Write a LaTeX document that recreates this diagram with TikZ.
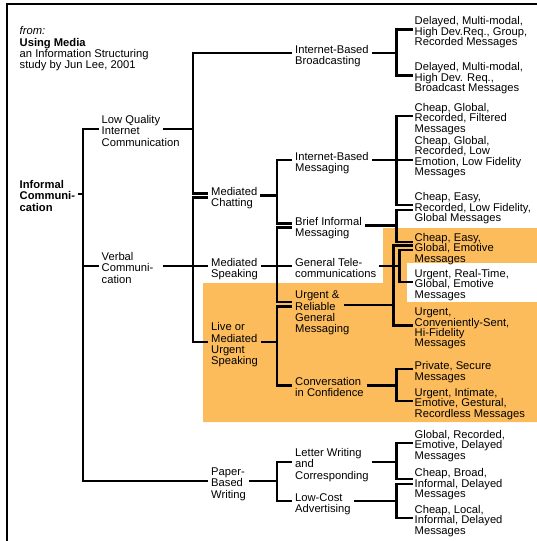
\documentclass[tikz,border=0pt]{standalone}
\usepackage{fontspec}
\setmainfont{Liberation Sans}
\definecolor{hl}{RGB}{252,188,92}
\newcommand\fsI{\fontsize{11.2}{11.3}\selectfont\lineskiplimit=-20pt\relax}
\newcommand\fsL{\fontsize{11.2}{10.4}\selectfont\lineskiplimit=-20pt\relax}
\newcommand\tst{\rule{0pt}{14pt}}
\newcommand\tsb{\rule[-2.4pt]{0pt}{0pt}}
\tikzset{
  conn/.style={line width=2.7pt, line join=miter, line cap=butt},
  lbl/.style={anchor=west, align=left, inner xsep=3pt, inner ysep=0pt, font=\fsI},
  leaf/.style={anchor=west, align=left, inner xsep=1.5pt, inner ysep=0pt, font=\fsL},
}
\begin{document}
\begin{tikzpicture}[x=1pt,y=1pt]
\useasboundingbox (0,0) rectangle (537,-541);
% highlighted region
\fill[hl] (203,-283) -- (383,-283) -- (383,-228) -- (537,-228) -- (537,-422) -- (203,-422) -- cycle;
\fill[white] (407,-263) rectangle (537,-302);
% frame
\draw[line width=1.2pt] (7,-541) -- (7,-4) -- (537,-4);
% header
\node[lbl] (hdr) at (16.5,-46) {\tst\textit{from:}\\\textbf{Using Media}\\an Information Structuring\\study by Jun Lee, 2001\tsb};
% nodes
\node[lbl, font=\fsI\bfseries] (root) at (16.5,-194) {\tst Informal\\Communi-\\cation\tsb};
\node[lbl] (lq) at (98.5,-129) {\tst Low Quality\\Internet\\Communication\tsb};
\node[lbl] (vc) at (98.5,-266) {\tst Verbal\\Communi-\\cation\tsb};
\node[lbl] (pb) at (208,-481) {\tst Paper-\\Based\\Writing\tsb};
\node[lbl] (ibb) at (292,-53) {\tst Internet-Based\\Broadcasting\tsb};
\node[lbl] (mc) at (208,-195.5) {\tst Mediated\\Chatting\tsb};
\node[lbl] (ms) at (208,-266) {\tst Mediated\\Speaking\tsb};
\node[lbl] (lm) at (208,-342) {\tst Live or\\Mediated\\Urgent\\Speaking\tsb};
\node[lbl] (ibm) at (292,-160) {\tst Internet-Based\\Messaging\tsb};
\node[lbl] (bim) at (292,-225.5) {\tst Brief Informal\\Messaging\tsb};
\node[lbl] (gt) at (292,-266) {\tst General Tele-\\communications\tsb};
\node[lbl] (ur) at (292,-310) {\tst Urgent \&\\Reliable\\General\\Messaging\tsb};
\node[lbl] (cc) at (292,-385.5) {\tst Conversation\\in Confidence\tsb};
\node[lbl] (lw) at (292,-462) {\tst Letter Writing\\and\\Corresponding\tsb};
\node[lbl] (lc) at (292,-501) {\tst Low-Cost\\Advertising\tsb};
% leaves
\node[leaf] (a1) at (413,-29.5) {\tst Delayed, Multi-modal,\\High Dev.Req., Group,\\Recorded Messages\tsb};
\node[leaf] (a2) at (413,-75.5) {\tst Delayed, Multi-modal,\\High Dev. Req.,\\Broadcast Messages\tsb};
\node[leaf] (l1) at (413,-116) {\tst Cheap, Global,\\Recorded, Filtered\\Messages\tsb};
\node[leaf] (l2) at (413,-154) {\tst Cheap, Global,\\Recorded, Low\\Emotion, Low Fidelity\\Messages\tsb};
\node[leaf] (l3) at (413,-205.5) {\tst Cheap, Easy,\\Recorded, Low Fidelity,\\Global Messages\tsb};
\node[leaf] (d1) at (413,-246) {\tst Cheap, Easy,\\Global, Emotive\\Messages\tsb};
\node[leaf] (d2) at (413,-282) {\tst Urgent, Real-Time,\\Global, Emotive\\Messages\tsb};
\node[leaf] (d3) at (413,-325.5) {\tst Urgent,\\Conveniently-Sent,\\Hi-Fidelity\\Messages\tsb};
\node[leaf] (e1) at (413,-369) {\tst Private, Secure\\Messages\tsb};
\node[leaf] (e2) at (413,-401) {\tst Urgent, Intimate,\\Emotive, Gestural,\\Recordless Messages\tsb};
\node[leaf] (f1) at (413,-443) {\tst Global, Recorded,\\Emotive, Delayed\\Messages\tsb};
\node[leaf] (f2) at (413,-481.5) {\tst Cheap, Broad,\\Informal, Delayed\\Messages\tsb};
\node[leaf] (f3) at (413,-518) {\tst Cheap, Local,\\Informal, Delayed\\Messages\tsb};
% bar columns
\coordinate (k1) at (83,0);
\coordinate (k2) at (193,0);
\coordinate (k3) at (277,0);
\coordinate (k4) at (396.5,0);
\coordinate (k4l) at (393.3,0);
\coordinate (k4r) at (399.3,0);
% shifted entry / exit points
\coordinate (lq-o) at ([xshift=64pt]lq.west);
\coordinate (vc-o) at ([xshift=64pt]vc.west);
\coordinate (mc-a) at ([yshift=2pt]mc.west);
\coordinate (mc-b) at ([yshift=-2pt]mc.west);
\coordinate (bim-a) at ([yshift=2pt]bim.west);
\coordinate (bim-b) at ([yshift=-2pt]bim.west);
\coordinate (ur-a) at ([yshift=8pt]ur.west);
\coordinate (ur-b) at ([yshift=3.3pt]ur.west);
\coordinate (ur-o) at ([xshift=52pt,yshift=5pt]ur.west);
\coordinate (l3-a) at ([yshift=0.5pt]l3.west);
\coordinate (l3-b) at ([yshift=-4.5pt]l3.west);
\coordinate (d1-a) at ([yshift=4pt]d1.west);
\coordinate (d1-b) at ([yshift=0.5pt]d1.west);
\coordinate (d1-c) at ([yshift=-4pt]d1.west);
\coordinate (f2-a) at ([yshift=2.5pt]f2.west);
\coordinate (f2-b) at ([yshift=-2.5pt]f2.west);
% connectors
\draw[conn] (root.east) -- (root.east -| k1);
\draw[conn] (lq.west) -| (k1 |- pb.west) -- (pb.west);
\draw[conn] (k1 |- vc.west) -- (vc.west);
\draw[conn] (lq-o) -- (lq-o -| k2);
\draw[conn] (ibb.west) -| (k2 |- mc-a) -- (mc-a);
\draw[conn] (vc-o) -- (vc-o -| ms.west);
\draw[conn] (mc-b) -| (k2 |- lm.west) -- (lm.west);
\draw[conn] (ibb.east) -- (ibb.east -| k4);
\draw[conn] (a1.west) -| (k4 |- a2.west) -- (a2.west);
\draw[conn] (mc.east) -- (mc.east -| k3);
\draw[conn] (ibm.west) -| (k3 |- bim-a) -- (bim-a);
\draw[conn] (ms.east) -- (ms.east -| gt.west);
\draw[conn] (bim-b) -| (k3 |- ur-a) -- (ur-a);
\draw[conn] (lm.east) -- (lm.east -| k3);
\draw[conn] (ur-b) -| (k3 |- cc.west) -- (cc.west);
\draw[conn] (ibm.east) -- (ibm.east -| l2.west);
\draw[conn] (l1.west) -| (k4 |- l3-a) -- (l3-a);
\draw[conn] (bim.east) -- (bim.east -| k4);
\draw[conn] (l3-b) -| (k4 |- d1-a) -- (d1-a);
\draw[conn] (ur-o) -- (ur-o -| k4l);
\draw[conn] (d1-b) -| (k4l |- d3.west) -- (d3.west);
\draw[conn] (gt.east) -- (gt.east -| k4r);
\draw[conn] (d1-c) -| (k4r |- d2.west) -- (d2.west);
\draw[conn] (cc.east) -- (cc.east -| k4);
\draw[conn] (e1.west) -| (k4 |- e2.west) -- (e2.west);
\draw[conn] (pb.east) -- (pb.east -| k3);
\draw[conn] (lw.west) -| (k3 |- lc.west) -- (lc.west);
\draw[conn] (lw.east) -- (lw.east -| k4);
\draw[conn] (f1.west) -| (k4 |- f2-a) -- (f2-a);
\draw[conn] (lc.east) -- (lc.east -| k4);
\draw[conn] (f2-b) -| (k4 |- f3.west) -- (f3.west);
\end{tikzpicture}
\end{document}
